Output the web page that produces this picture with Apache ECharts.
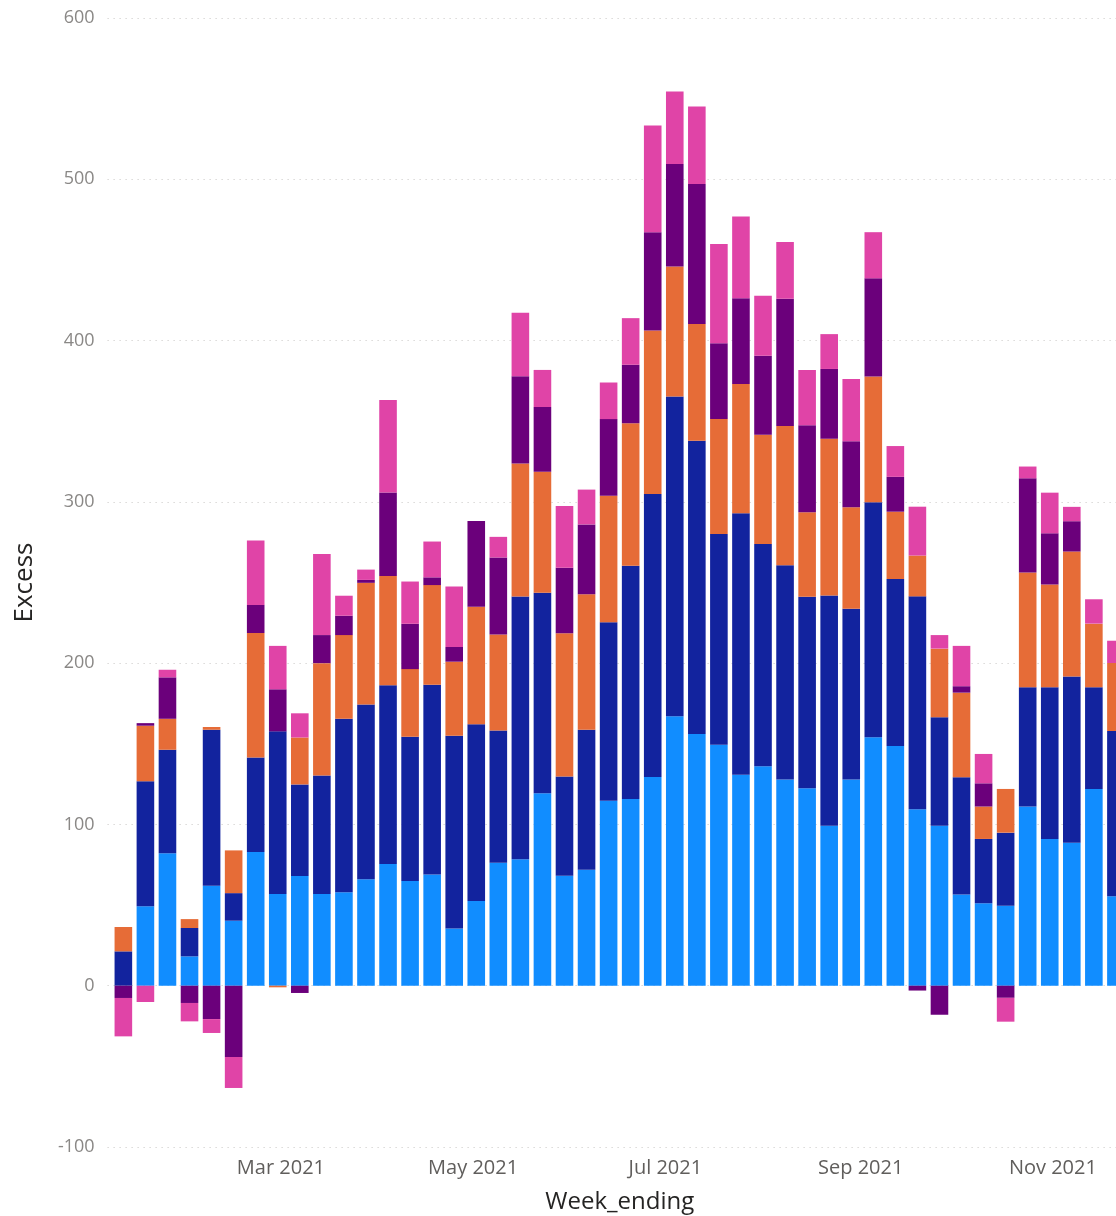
<!DOCTYPE html>
<html>
<head>
<meta charset="utf-8">
<script src="https://cdn.jsdelivr.net/npm/echarts@6/dist/echarts.min.js"></script>
<style>
html,body{margin:0;padding:0;background:#fff;}
#chart{width:1116px;height:1216px;}
</style>
</head>
<body>
<div id="chart"></div>
<script>
const weekEnding = ['2021-01-10','2021-01-17','2021-01-24','2021-01-31','2021-02-07','2021-02-14','2021-02-21','2021-02-28',
'2021-03-07','2021-03-14','2021-03-21','2021-03-28','2021-04-04','2021-04-11','2021-04-18','2021-04-25',
'2021-05-02','2021-05-09','2021-05-16','2021-05-23','2021-05-30','2021-06-06','2021-06-13','2021-06-20','2021-06-27',
'2021-07-04','2021-07-11','2021-07-18','2021-07-25','2021-08-01','2021-08-08','2021-08-15','2021-08-22','2021-08-29',
'2021-09-05','2021-09-12','2021-09-19','2021-09-26','2021-10-03','2021-10-10','2021-10-17','2021-10-24','2021-10-31',
'2021-11-07','2021-11-14','2021-11-21'];

const seriesLightBlue = [0,49.2,82.2,18.2,62,40.3,82.9,56.8,68,56.8,58,66,75.5,65,69,35.5,52.5,76.2,78.4,119.4,68.2,71.9,114.7,115.7,129.4,167,156,149.4,130.8,136,127.8,122.4,99.2,127.9,154.1,148.6,109.4,99.2,56.6,51.1,49.6,111.1,91,88.7,121.9,55.5];
const seriesDarkBlue = [21.3,77.5,64.1,17.6,96.7,17.1,58.6,100.9,56.8,73.5,107.6,108.3,110.8,89.4,117.6,119.5,109.6,82,162.9,124.2,61.5,86.8,110.6,144.7,175.4,198.4,181.9,130.6,162.2,137.8,132.9,118.7,142.8,105.8,145.6,103.6,132,67.3,72.6,39.9,45.3,74,94.1,103,63.2,102.5];
const seriesOrange = [15.1,34.5,19.2,5.5,1.7,26.5,77.2,-1,29.1,69.7,51.8,75.5,67.7,41.9,61.8,45.9,72.9,59.5,82.5,75.1,88.8,84,78.5,88.4,101.5,80.6,72.3,71.3,80,67.8,86.3,52.4,97.2,62.9,78.1,41.7,25.3,42.5,52.5,20.1,27.1,71.1,63.7,77.5,39.4,42.1];
const seriesPurple = [-7.6,1.6,25.7,-10.7,-20.7,-44.2,17.4,26.1,-4.5,17.4,12,1.8,51.8,28.1,4.8,9.1,53.2,47.8,54.1,40.1,40.7,43.3,47.5,36.2,60.9,63.4,86.8,47.1,53.3,49,79,54,43.2,41,60.8,21.6,-3,-18,4,14.4,-7.5,58.4,31.7,18.8,0,0];
const seriesPink = [-23.8,-10.1,4.7,-11.4,-8.6,-19.2,39.9,26.9,15,50.3,12.4,6.4,57.3,26.2,22.2,37.5,0,12.8,39.3,23,38.2,21.6,22.7,28.9,66.2,45.1,48.2,61.4,50.7,37.2,35.1,34.3,21.6,38.6,28.6,19.1,30.3,8.4,25,18.2,-14.8,7.3,25.2,8.9,15.1,13.8];

const seriesNames = ['Group 1','Group 2','Group 3','Group 4','Group 5'];
const seriesColors = ['#118DFF','#12239E','#E66C37','#6B007B','#E044A7'];

const xTickDates = ['2021-03-01','2021-05-01','2021-07-01','2021-09-01','2021-11-01'];
const xTickLabels = ['Mar 2021','May 2021','Jul 2021','Sep 2021','Nov 2021'];

function ts(s){ const p = s.split('-').map(Number); return new Date(p[0], p[1]-1, p[2]).getTime(); }

const allSeries = [seriesLightBlue, seriesDarkBlue, seriesOrange, seriesPurple, seriesPink];
const tickTs = xTickDates.map(ts);
const DAY = 86400000;

// plot area layout
const gridLeft = 107.6, gridWidth = 1024.4, barW = 17.6;
const pxPerDay = 3.151;
const axisStart = ts('2021-01-05');
const axisEnd = axisStart + gridWidth / pxPerDay * DAY;
// ECharts widens a time axis holding bars by half a bar on each side; compensate
const pad = (axisEnd - axisStart) * barW / (2 * gridWidth);

const chart = echarts.init(document.getElementById('chart'), null, {renderer:'canvas'});
chart.setOption({
  animation: false,
  backgroundColor: '#ffffff',
  grid: { left: gridLeft, top: 18, width: gridWidth, height: 1129, containLabel: false, outerBoundsMode: 'none' },
  xAxis: {
    type: 'time',
    min: axisStart + pad,
    max: axisEnd - pad,
    minInterval: 28 * DAY,
    maxInterval: 31 * DAY,
    axisLine: { show: false },
    axisTick: { show: false },
    splitLine: { show: false },
    axisLabel: {
      showMinLabel: false,
      showMaxLabel: false,
      hideOverlap: false,
      formatter: function (v) {
        let best = -1, bd = Infinity;
        for (let i = 0; i < tickTs.length; i++) { const d = Math.abs(tickTs[i] - v); if (d < bd) { bd = d; best = i; } }
        return bd < DAY / 2 ? xTickLabels[best] : '';
      },
      color: '#605E5C',
      fontFamily: 'Open Sans',
      fontSize: 20,
      margin: 11
    },
    name: 'Week_ending',
    nameLocation: 'middle',
    nameGap: 43,
    nameTextStyle: { color: '#252423', fontFamily: 'Open Sans', fontSize: 24 }
  },
  yAxis: {
    type: 'value',
    min: -100,
    max: 600,
    interval: 100,
    axisLine: { show: false },
    axisTick: { show: false },
    splitLine: { show: true, lineStyle: { color: '#C8C6C4', type: [1, 5], width: 1 } },
    axisLabel: { color: '#8a8886', fontFamily: 'Open Sans', fontSize: 18, margin: 13 },
    name: 'Excess',
    nameLocation: 'middle',
    nameGap: 70,
    nameTextStyle: { color: '#252423', fontFamily: 'Open Sans', fontSize: 26 }
  },
  series: allSeries.map(function (vals, k) {
    return {
      name: seriesNames[k],
      type: 'bar',
      stack: 'total',
      barWidth: barW,
      itemStyle: { color: seriesColors[k] },
      data: weekEnding.map(function (d, i) { return [ts(d), vals[i]]; })
    };
  })
});
</script>
</body>
</html>
